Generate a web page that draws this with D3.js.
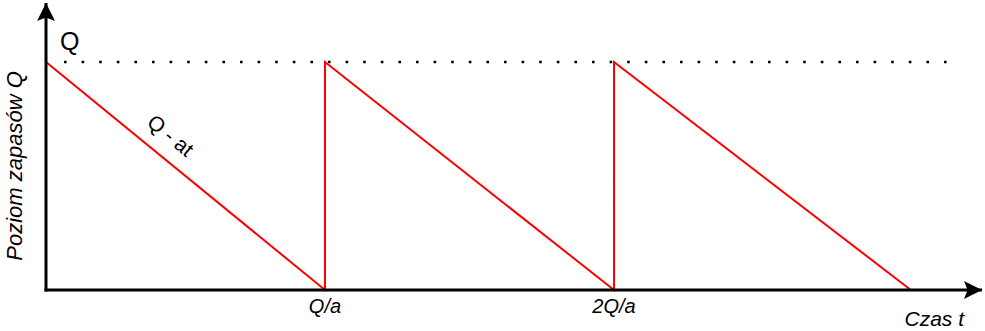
<!DOCTYPE html>
<html>
<head>
<meta charset="utf-8">
<script src="https://cdn.jsdelivr.net/npm/d3@7"></script>
<style>
  body { margin: 0; background: #fff; }
  svg { display: block; font-family: "Liberation Sans", Arial, sans-serif; }
</style>
</head>
<body>
<svg width="985" height="331"></svg>
<script>
// Sawtooth stock level (time in units of Q/a, level in units of Q)
const times = [0, 1, 1, 2.036, 2.036, 3.1];
const levels = [1, 0, 1, 0, 1, 0];
const tickValues = [1, 2.036];
const tickLabels = ["Q/a", "2Q/a"];

const svg = d3.select("svg");

const x = d3.scaleLinear().domain([0, 3.355]).range([46, 982]);
const y = d3.scaleLinear().domain([0, 1]).range([290, 62]);

const defs = svg.append("defs");
defs.append("marker")
    .attr("id", "arrow")
    .attr("viewBox", "0 0 10 10")
    .attr("refX", 10)
    .attr("refY", 5)
    .attr("markerWidth", 6)
    .attr("markerHeight", 6)
    .attr("markerUnits", "strokeWidth")
    .attr("orient", "auto")
  .append("path")
    .attr("d", "M0,0L10,5L0,10L2,5Z")
    .attr("fill", "#000");

// Dotted reference line at Q
svg.append("line")
    .attr("x1", 64)
    .attr("x2", 948)
    .attr("y1", y(1))
    .attr("y2", y(1))
    .attr("stroke", "#000")
    .attr("stroke-width", 2.6)
    .attr("stroke-dasharray", "2.6,15");

// Red sawtooth
const data = times.map((t, i) => ({ t, v: levels[i] }));
const line = d3.line().x(d => x(d.t)).y(d => y(d.v));
svg.append("path")
    .datum(data)
    .attr("d", line)
    .attr("fill", "none")
    .attr("stroke", "#ff0000")
    .attr("stroke-width", 2);

// Axes
svg.append("line")
    .attr("x1", x(0)).attr("y1", y(0) + 1.5)
    .attr("x2", x(0)).attr("y2", 3)
    .attr("stroke", "#000").attr("stroke-width", 3)
    .attr("marker-end", "url(#arrow)");
svg.append("line")
    .attr("x1", x(0) - 1.5).attr("y1", y(0))
    .attr("x2", 982).attr("y2", y(0))
    .attr("stroke", "#000").attr("stroke-width", 3)
    .attr("marker-end", "url(#arrow)");

// Tick labels
svg.selectAll(".tick-label")
    .data(tickValues)
    .join("text")
    .attr("class", "tick-label")
    .attr("x", d => x(d))
    .attr("y", 313)
    .attr("text-anchor", "middle")
    .attr("font-size", 20)
    .attr("font-style", "italic")
    .text((d, i) => tickLabels[i]);

// Labels
svg.append("text")
    .attr("x", 60).attr("y", 50)
    .attr("font-size", 25)
    .text("Q");

svg.append("text")
    .attr("x", 964).attr("y", 326)
    .attr("text-anchor", "end")
    .attr("font-size", 21)
    .attr("font-style", "italic")
    .text("Czas t");

svg.append("text")
    .attr("transform", "translate(22,166) rotate(-90)")
    .attr("text-anchor", "middle")
    .attr("font-size", 22)
    .attr("font-style", "italic")
    .text("Poziom zapasów Q");

const angle = Math.atan2(y(0) - y(1), x(1) - x(0)) * 180 / Math.PI;
svg.append("text")
    .attr("transform", `translate(166,141) rotate(${angle})`)
    .attr("text-anchor", "middle")
    .attr("font-size", 21)
    .text("Q - at");
</script>
</body>
</html>
